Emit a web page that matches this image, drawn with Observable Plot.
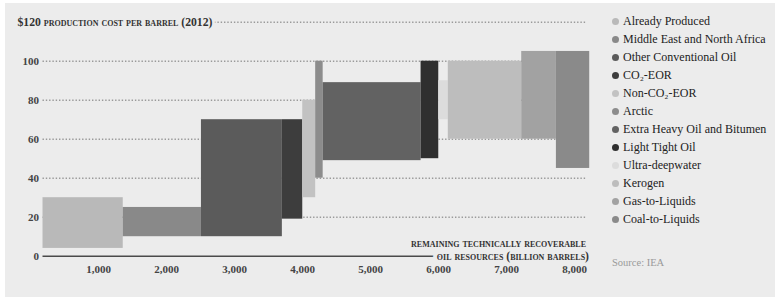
<!DOCTYPE html>
<html>
<head>
<meta charset="utf-8">
<script src="https://cdn.jsdelivr.net/npm/d3@7"></script>
<script src="https://cdn.jsdelivr.net/npm/@observablehq/plot@0.6"></script>
<style>
  html, body { margin: 0; padding: 0; background: #ffffff; }
  #wrap { position: relative; width: 775px; height: 302px; overflow: hidden; font-family: "Liberation Serif", serif; }
  #panel { position: absolute; left: 5px; top: 3px; width: 770px; height: 294px; background: #ececec; }
  #chart { position: absolute; left: 0; top: 0; }
  #legend { position: absolute; left: 610px; top: 12px; }
  .row { height: 18.06px; display: flex; align-items: center; font-size: 12px; color: #222; white-space: nowrap; }
  .dot { width: 7px; height: 7px; border-radius: 50%; margin-left: 2px; margin-right: 4px; flex: none; }
  #source { position: absolute; left: 612px; top: 257px; font-size: 10.5px; color: #9a9a9a; }
</style>
</head>
<body>
<div id="wrap">
  <div id="panel"></div>
  <div id="chart"></div>
  <div id="legend"></div>
  <div id="source">Source: IEA</div>
</div>
<script>
// Resource categories (supply cost curve, IEA)
const categories = [
  "Already Produced", "Middle East and North Africa", "Other Conventional Oil",
  "CO₂-EOR", "Non-CO₂-EOR", "Arctic", "Extra Heavy Oil and Bitumen",
  "Light Tight Oil", "Ultra-deepwater", "Kerogen", "Gas-to-Liquids", "Coal-to-Liquids"
];
// Remaining technically recoverable resources (billion barrels), block widths
const resources = [1180, 1150, 1190, 300, 190, 110, 1440, 260, 140, 1080, 510, 490];
// Production cost range, $ per barrel (2012)
const costLow  = [4, 10, 10, 19, 30, 40, 49, 50, 70, 60, 60, 45];
const costHigh = [30, 25, 70, 70, 80, 100, 89, 100, 90, 100, 105, 105];
const colors = ["#b9b9b9", "#898989", "#5b5b5b", "#3d3d3d", "#c2c2c2", "#8c8c8c",
                "#626262", "#2f2f2f", "#dcdcdc", "#bdbdbd", "#a2a2a2", "#8a8a8a"];
const yTicks = [0, 20, 40, 60, 80, 100];
const gridTicks = [20, 40, 60, 80, 100, 120];
const xTicks = [1000, 2000, 3000, 4000, 5000, 6000, 7000, 8000];
const topTickLabel = "$120 production cost per barrel (2012)";
const xLabel1 = "remaining technically recoverable";
const xLabel2 = "oil resources (billion barrels)";

const bg = "#ececec";
let acc = 0;
const blocks = categories.map((c, i) => {
  const x1 = acc; acc += resources[i];
  return { category: c, x1, x2: acc, y1: costLow[i], y2: costHigh[i], color: colors[i] };
});

const capsStyle = { fontVariant: "small-caps", fontWeight: "bold", fontSize: 11.7, fill: "#333" };

const chart = Plot.plot({
  width: 600,
  height: 302,
  marginLeft: 42.5,
  marginRight: 13.5,
  marginTop: 21.7,
  marginBottom: 46.3,
  style: { background: "transparent", fontFamily: "Liberation Serif, serif", overflow: "visible" },
  x: { domain: [0, 8000] },
  y: { domain: [0, 120] },
  marks: [
    Plot.ruleY(gridTicks, { stroke: "#9a9a9a", strokeWidth: 1.4, strokeDasharray: "1.4,1.9" }),
    Plot.rect(blocks, { x1: "x1", x2: "x2", y1: "y1", y2: "y2", fill: "color" }),
    Plot.ruleY([0], { stroke: "#4a4a4a", strokeWidth: 1.5 }),
    Plot.text([120], { y: d => d, frameAnchor: "left", text: () => topTickLabel, textAnchor: "start", dx: -25.5,
                       ...capsStyle, stroke: bg, strokeWidth: 6, paintOrder: "stroke" }),
    Plot.text([xLabel1], { frameAnchor: "bottom-right", textAnchor: "end", lineAnchor: "middle", dy: -13, dx: -1,
                           ...capsStyle }),
    Plot.text([xLabel2], { frameAnchor: "bottom-right", textAnchor: "end", lineAnchor: "middle", dy: 0.5, dx: 2,
                           ...capsStyle, stroke: bg, strokeWidth: 8, paintOrder: "stroke" }),
    Plot.axisY({ ticks: yTicks, tickSize: 0, tickPadding: 4, fontSize: 11, fontWeight: "bold", fill: "#444", label: null }),
    Plot.axisX({ ticks: xTicks, tickFormat: d3.format(","), textAnchor: "end", tickSize: 0, tickPadding: 9,
                 fontSize: 11, fontWeight: "bold", fill: "#444", label: null })
  ]
});
document.getElementById("chart").appendChild(chart);

const legend = d3.select("#legend");
categories.forEach((c, i) => {
  const row = legend.append("div").attr("class", "row");
  row.append("span").attr("class", "dot").style("background", colors[i]);
  row.append("span").text(c);
});
</script>
</body>
</html>
